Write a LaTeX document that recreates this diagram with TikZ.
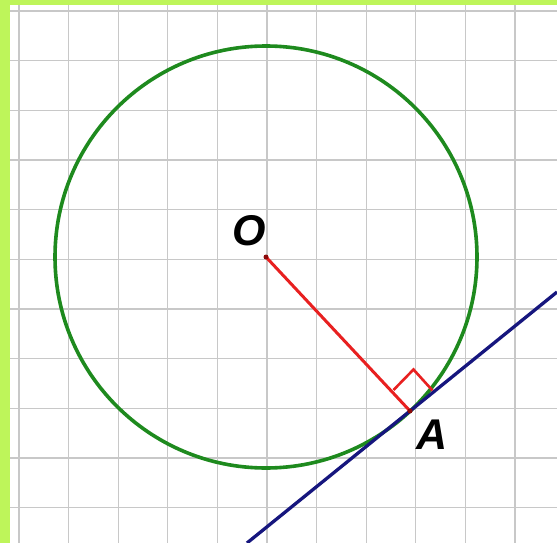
\documentclass[tikz,border=0pt]{standalone}
\usepackage{fontspec}
\setmainfont{Liberation Sans}
\usepackage{tikz}
\usetikzlibrary{calc}
\definecolor{framec}{HTML}{BEF55A}
\definecolor{gridc}{HTML}{C8C8C8}
\definecolor{circc}{HTML}{1E8A1E}
\definecolor{radc}{HTML}{E82020}
\definecolor{tanc}{HTML}{16167E}
\definecolor{dotc}{HTML}{8B0A0A}
\tikzset{
  gridln/.style={gridc,line width=1.3pt},
  circln/.style={circc,line width=3.6pt},
  radln/.style={radc,line width=3pt},
  tanln/.style={tanc,line width=3.3pt},
  lbl/.style={inner sep=0pt,font=\fontsize{43}{43}\selectfont\bfseries\itshape}
}
\begin{document}
\begin{tikzpicture}[x=1pt,y=-1pt]
\useasboundingbox (0,0) rectangle (557,543);
\fill[white] (0,0) rectangle (557,543);
\clip (0,0) rectangle (557,543);
% grid
\foreach \k in {0,...,10}{
  \draw[gridln] ({19+49.6*\k},5) -- ({19+49.6*\k},543);
  \draw[gridln] (10,{11+49.67*\k}) -- (557,{11+49.67*\k});
}
\fill[framec] (0,0) rectangle (557,5);
\fill[framec] (0,0) rectangle (10,543);
% points
\coordinate (O) at (266,257);
\coordinate (A) at (410,411);
\coordinate (T1) at (247,543);
\coordinate (T2) at (557,292);
\coordinate (M1) at (393.5,390);
\coordinate (M2) at (413.5,369.5);
\coordinate (M3) at (432.5,390.5);
\draw[circln] (O) circle (211);
\draw[tanln] (T1) -- (T2);
\draw[radln] (O) -- (A);
\draw[radln,line width=2.6pt] (M1) -- (M2) -- (M3);
\fill[dotc] (O) circle (2.5);
\fill[dotc] (A) circle (2.5);
\node[lbl] (labO) at (249,231) {O};
\node[lbl] (labA) at (432,435) {A};
\end{tikzpicture}
\end{document}
